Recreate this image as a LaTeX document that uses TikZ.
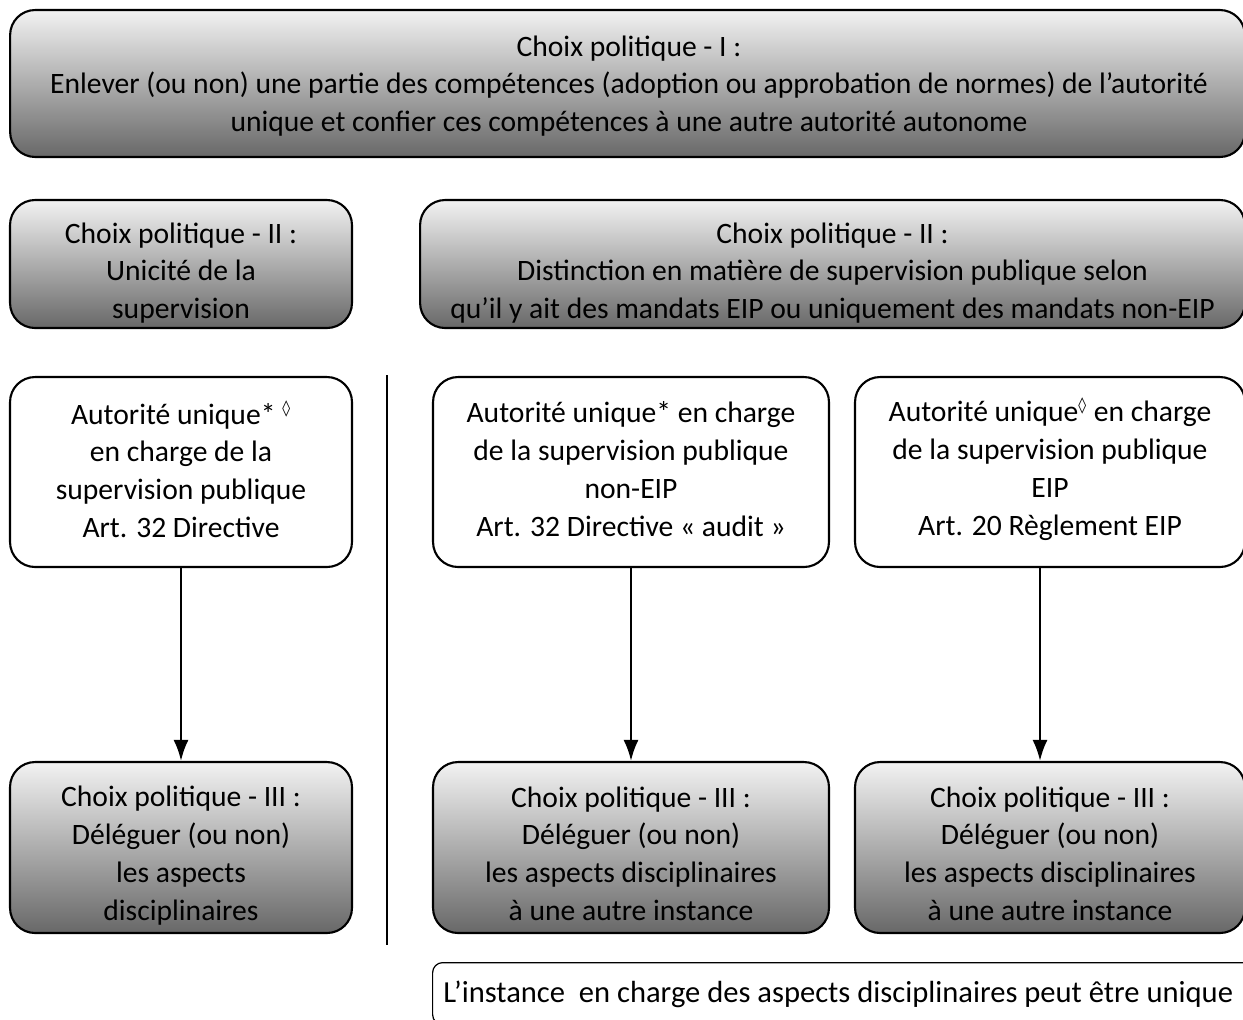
\documentclass[tikz,border=0pt]{standalone}
\usepackage{fontspec}
\setmainfont{Carlito}
\newfontfamily\symfont{DejaVu Sans}
\usepackage{tikz}
\usetikzlibrary{arrows.meta}

\definecolor{shadetop}{RGB}{242,242,242}
\definecolor{shadebot}{RGB}{104,104,104}
\newcommand{\loz}{\textsuperscript{\symfont\small ◊}}

\tikzset{
  choixbox/.style={draw=black, line width=1.2pt, rounded corners=0.5cm, top color=shadetop, bottom color=shadebot, inner sep=0pt},
  autobox/.style={draw=black, line width=1.2pt, rounded corners=0.5cm, fill=white, inner sep=0pt},
  notebox/.style={draw=black, line width=0.7pt, rounded corners=0.2cm, fill=white, inner sep=0pt},
  boxtext/.style={align=center, inner sep=0pt},
  fleche/.style={-{Latex[length=0.42cm,width=0.3cm]}, line width=1.4pt}
}

\begin{document}
\begin{tikzpicture}[x=0.02cm, y=-0.02cm, font=\fontsize{16.85}{21.5}\selectfont]
  \useasboundingbox (0,0) rectangle (1243,1019);

  % premier choix
  \node[choixbox, minimum width=24.7cm, minimum height=2.94cm] (choixI) at (627.5,83.5) {};
  \node[boxtext] (choixI-t) at (629,86)
    {Choix politique - I :\\Enlever (ou non) une partie des compétences (adoption ou approbation de normes) de l’autorité\\unique et confier ces compétences à une autre autorité autonome};

  % second choix
  \node[choixbox, minimum width=6.84cm, minimum height=2.56cm] (choixIIa) at (181,264) {};
  \node[boxtext] (choixIIa-t) at (181,273) {Choix politique - II :\\Unicité de la\\supervision};
  \node[choixbox, minimum width=16.5cm, minimum height=2.56cm] (choixIIb) at (832.5,264) {};
  \node[boxtext] (choixIIb-t) at (832.5,273)
    {Choix politique - II :\\Distinction en matière de supervision publique selon\\qu’il y ait des mandats EIP ou uniquement des mandats non-EIP};

  % autorites
  \node[autobox, minimum width=6.84cm, minimum height=3.8cm] (auto1) at (181,472) {};
  \node[boxtext] (auto1-t) at (181,469)
    {Autorité unique* \loz\\en charge de la\\supervision publique\\Art. 32 Directive};
  \node[autobox, minimum width=7.92cm, minimum height=3.8cm] (auto2) at (631,472) {};
  \node[boxtext] (auto2-t) at (631,469)
    {Autorité unique* en charge\\de la supervision publique\\non-EIP\\Art. 32 Directive « audit »};
  \node[autobox, minimum width=7.8cm, minimum height=3.8cm] (auto3) at (1050,472) {};
  \node[boxtext] (auto3-t) at (1050,469)
    {Autorité unique\loz{} en charge\\de la supervision publique\\EIP\\Art. 20 Règlement EIP};

  % troisieme choix
  \node[choixbox, minimum width=6.84cm, minimum height=3.42cm] (choixIIIa) at (181,847.5) {};
  \node[boxtext] (choixIIIa-t) at (181,855.5)
    {Choix politique - III :\\Déléguer (ou non)\\les aspects\\disciplinaires};
  \node[choixbox, minimum width=7.92cm, minimum height=3.42cm] (choixIIIb) at (631,847.5) {};
  \node[boxtext] (choixIIIb-t) at (631,853.5)
    {Choix politique - III :\\Déléguer (ou non)\\les aspects disciplinaires\\à une autre instance};
  \node[choixbox, minimum width=7.8cm, minimum height=3.42cm] (choixIIIc) at (1050,847.5) {};
  \node[boxtext] (choixIIIc-t) at (1050,853.5)
    {Choix politique - III :\\Déléguer (ou non)\\les aspects disciplinaires\\à une autre instance};

  \draw[fleche] (auto1) -- (choixIIIa);
  \draw[fleche] (auto2) -- (choixIIIb);
  \draw[fleche] ([xshift=-0.2cm]auto3.south) -- ([xshift=-0.2cm]choixIIIc.north);

  % separation
  \draw[line width=0.9pt] (387,375) -- (387,945);

  % remarque
  \node[notebox, anchor=north west, minimum width=17cm, minimum height=1.24cm] (remarque) at (432,962) {};
  \node[anchor=west, inner sep=0pt, font=\fontsize{17.4}{21.5}\selectfont] (remarque-t) at (443,994)
    {L’instance\ \ en charge des aspects disciplinaires peut être unique};
\end{tikzpicture}
\end{document}
